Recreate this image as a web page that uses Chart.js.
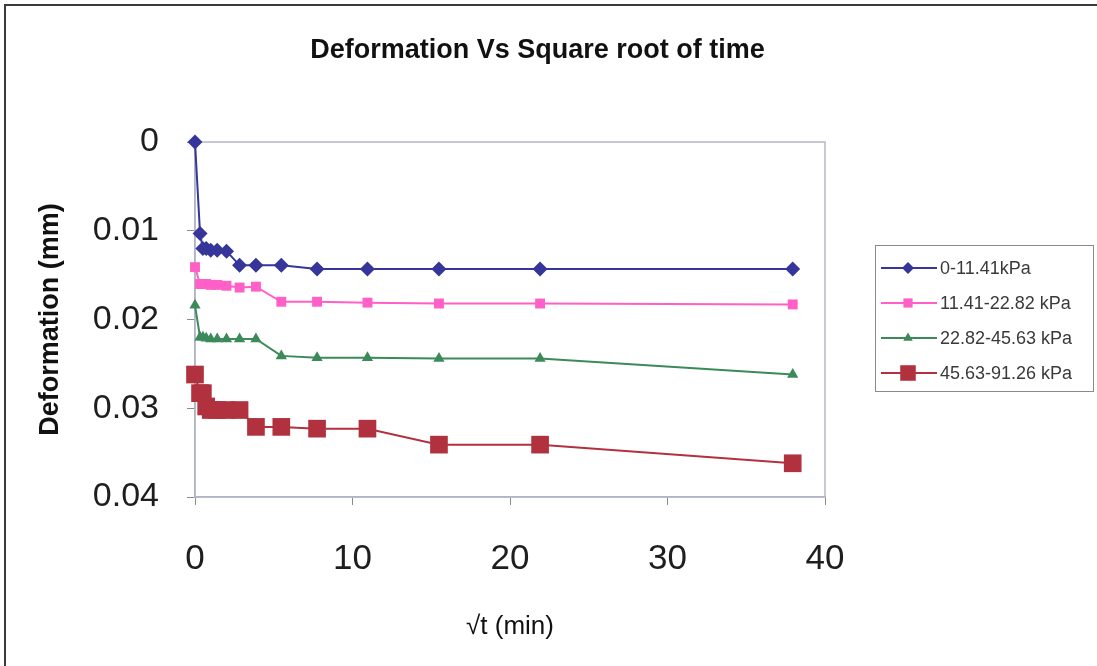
<!DOCTYPE html>
<html>
<head>
<meta charset="utf-8">
<script src="https://cdn.jsdelivr.net/npm/chart.js@4/dist/chart.umd.min.js"></script>
<style>
  html, body { margin: 0; padding: 0; background: #fff; }
  #wrap {
    position: relative; width: 1097px; height: 666px; box-sizing: border-box;
  }
  #frame {
    position: absolute; left: 4px; top: 4px; right: 0; bottom: 0;
    border-left: 2px solid #3a3a3a; border-top: 2px solid #3a3a3a;
    pointer-events: none;
  }
  canvas { position: absolute; left: 0; top: 0; }
</style>
</head>
<body>
<div id="wrap">
  <canvas id="chart" width="1097" height="666"></canvas>
  <div id="frame"></div>
</div>
<script>
// square root of elapsed time (min)
const sqrtTime = [0, 0.32, 0.5, 0.71, 1, 1.41, 2, 2.83, 3.87, 5.48, 7.75, 10.95, 15.49, 21.91, 37.95]

// deformation readings (mm) for each load step
const load1 = [0, 0.0103, 0.0120, 0.0120, 0.0122, 0.0122, 0.0123, 0.0139, 0.0139, 0.0139, 0.0143, 0.0143, 0.0143, 0.0143, 0.0143]
const load2 = [0.0141, 0.0160, 0.0160, 0.0160, 0.0161, 0.0161, 0.0162, 0.0164, 0.0163, 0.0180, 0.0180, 0.0181, 0.0182, 0.0182, 0.0183]
const load3 = [0.0184, 0.0220, 0.0220, 0.0221, 0.0222, 0.0222, 0.0222, 0.0222, 0.0222, 0.0241, 0.0243, 0.0243, 0.0244, 0.0244, 0.0262]
const load4 = [0.0262, 0.0283, 0.0283, 0.0298, 0.0302, 0.0302, 0.0302, 0.0302, 0.0321, 0.0321, 0.0323, 0.0323, 0.0341, 0.0341, 0.0362]

const seriesLabels = ['0-11.41kPa', '11.41-22.82 kPa', '22.82-45.63 kPa', '45.63-91.26 kPa']
const xTicks = [0, 10, 20, 30, 40]
const yTicks = [0, 0.01, 0.02, 0.03, 0.04]

const FONT = '"Liberation Sans", Arial, sans-serif'

const toPoints = ys => sqrtTime.map((x, i) => ({ x, y: ys[i] }))

const styles = [
  { color: '#35359a', pointStyle: 'rectRot', radius: 7.5, legendRadius: 6 },
  { color: '#ff5fc6', pointStyle: 'rect', radius: 7, legendRadius: 6.5 },
  { color: '#3c8a5a', pointStyle: 'triangle', radius: 6.5, legendRadius: 5.5 },
  { color: '#b1323e', pointStyle: 'rect', radius: 12.5, legendRadius: 11 }
]

const datasets = [load1, load2, load3, load4].map((ys, i) => ({
  label: seriesLabels[i],
  data: toPoints(ys),
  borderColor: styles[i].color,
  backgroundColor: styles[i].color,
  borderWidth: 2,
  pointStyle: styles[i].pointStyle,
  pointRadius: styles[i].radius,
  pointBorderWidth: 0,
  pointBackgroundColor: styles[i].color,
  tension: 0,
  clip: false
}))

// light box around the plotting area
const plotFrame = {
  id: 'plotFrame',
  beforeDatasetsDraw(chart) {
    const { ctx, chartArea: a } = chart
    ctx.save()
    ctx.strokeStyle = '#b4b8c8'
    ctx.lineWidth = 1.5
    ctx.strokeRect(a.left, a.top, a.right - a.left, a.bottom - a.top)
    ctx.restore()
  }
}

// boxed legend on the right, line sample with marker through it
const sideLegend = {
  id: 'sideLegend',
  afterDraw(chart) {
    const { ctx } = chart
    const box = { x: 875, y: 245, w: 218, h: 146 }
    ctx.save()
    ctx.strokeStyle = '#8a8a8a'
    ctx.lineWidth = 1
    ctx.strokeRect(box.x + 0.5, box.y + 0.5, box.w, box.h)
    ctx.font = '18px ' + FONT
    ctx.textBaseline = 'middle'
    chart.data.datasets.forEach((ds, i) => {
      const y = box.y + 23 + i * 35
      ctx.strokeStyle = ds.borderColor
      ctx.lineWidth = 2
      ctx.beginPath()
      ctx.moveTo(box.x + 6, y)
      ctx.lineTo(box.x + 62, y)
      ctx.stroke()
      ctx.fillStyle = ds.borderColor
      Chart.helpers.drawPoint(ctx, {
        pointStyle: ds.pointStyle,
        radius: styles[i].legendRadius,
        borderWidth: 0
      }, box.x + 33, y)
      ctx.fillStyle = '#3a3a3a'
      ctx.fillText(ds.label, box.x + 65, y + 1)
    })
    ctx.restore()
  }
}

new Chart(document.getElementById('chart'), {
  type: 'line',
  data: { datasets },
  options: {
    responsive: false,
    animation: false,
    layout: { padding: { left: 0, right: 22, top: 0, bottom: 0 } },
    scales: {
      x: {
        type: 'linear',
        min: 0,
        max: 40,
        afterBuildTicks: scale => { scale.ticks = xTicks.map(value => ({ value })) },
        afterFit: scale => { scale.height = 169 },
        grid: { drawOnChartArea: false, drawTicks: true, tickLength: 8, color: '#8a8a8a' },
        border: { display: true, color: '#a4a8bc', width: 1.5 },
        ticks: { color: '#1e1e1e', padding: 33, font: { family: FONT, size: 35 } },
        title: {
          display: true,
          text: '√t (min)',
          color: '#111',
          font: { family: FONT, size: 26 },
          padding: { top: 0, bottom: 24 }
        }
      },
      y: {
        reverse: true,
        min: 0,
        max: 0.04,
        afterBuildTicks: scale => { scale.ticks = yTicks.map(value => ({ value })) },
        afterFit: scale => { scale.width = 195 },
        grid: { drawOnChartArea: false, drawTicks: true, tickLength: 8, color: '#8a8a8a' },
        border: { display: true, color: '#a4a8bc', width: 1.5 },
        ticks: {
          color: '#1e1e1e',
          padding: 28,
          font: { family: FONT, size: 34 },
          callback: v => String(v)
        },
        title: {
          display: true,
          text: 'Deformation (mm)',
          color: '#111',
          font: { family: FONT, size: 27, weight: 'bold' },
          padding: { top: 34, bottom: 0 }
        }
      },
      // empty strip that keeps room for the legend
      legendSpace: {
        position: 'right',
        display: true,
        afterFit: scale => { scale.width = 250 },
        grid: { display: false },
        border: { display: false },
        ticks: { display: false }
      }
    },
    plugins: {
      legend: { display: false },
      tooltip: { enabled: false },
      title: {
        display: true,
        text: 'Deformation Vs Square root of time',
        color: '#111',
        font: { family: FONT, size: 27, weight: 'bold' },
        padding: { top: 34, bottom: 75.6 }
      }
    }
  },
  plugins: [plotFrame, sideLegend]
})
</script>
</body>
</html>
